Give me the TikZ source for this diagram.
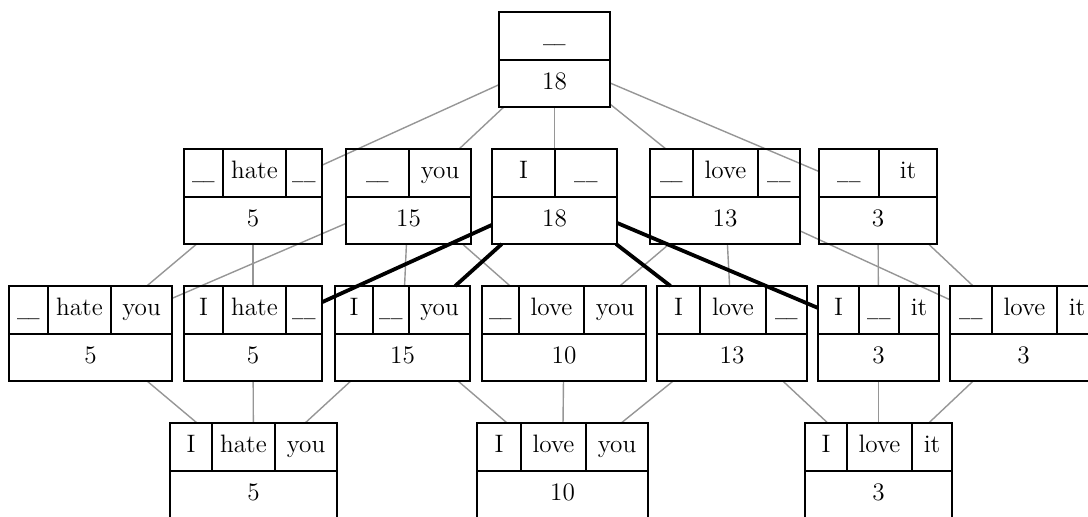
\documentclass[tikz,border=0pt]{standalone}
\usepackage{fontspec}
\usepackage{graphicx}
\pgfdeclarelayer{background}
\pgfsetlayers{background,main}
\definecolor{linkgray}{RGB}{150,150,150}
\tikzset{
  wordbox/.style={draw, line width=1pt, inner sep=0pt, outer sep=0pt,
    anchor=north west, minimum height=47.5pt},
  boxrule/.style={line width=1pt},
  wordlabel/.style={inner sep=0pt, anchor=base, font=\fontsize{12.6}{15}\selectfont},
  link/.style={draw=linkgray, line width=0.7pt},
  boldlink/.style={draw=black, line width=1.9pt},
}
% a box: a row of word cells above one cell with the count
% #1 name, #2 left, #3 right, #4 top, #5 count, #6 cells as left/right/word
\newcommand\wordrow[6]{%
  \node[wordbox, minimum width={(#3-#2)*0.5pt}] (#1) at (#2,#4) {};
  \draw[boxrule] (#2,#4+48) -- (#3,#4+48);
  \node[wordlabel] (#1-n) at ({(#2+#3)/2},#4+78) {#5};
  \foreach \a/\b/\w [count=\i] in {#6} {
    \node[wordlabel] (#1-w\i) at ({(\a+\b)/2},#4+30) {\w};
    \ifnum\i>1 \draw[boxrule] (\a,#4) -- (\a,#4+48);\fi
  }%
}
% the empty slot, written as a short double underscore
\newcommand\blank{\raisebox{0.6pt}{\scalebox{0.62}[1.5]{\_\_}}}
\begin{document}
\begin{tikzpicture}[x=0.5pt,y=-0.5pt]
\useasboundingbox (0,0) rectangle (1088,517);
% level 0
\wordrow{root}{499}{610}{12}{18}{499/610/\blank}
% level 1
\wordrow{h1}{184}{322}{149}{5}{184/223/\blank, 223/286/hate, 286/322/\blank}
\wordrow{y1}{346}{471}{149}{15}{346/409/\blank, 409/471/you}
\wordrow{i1}{492}{617}{149}{18}{492/555/I, 555/617/\blank}
\wordrow{l1}{650}{800}{149}{13}{650/693/\blank, 693/758/love, 758/800/\blank}
\wordrow{t1}{819}{937}{149}{3}{819/879/\blank, 879/937/it}
% level 2
\wordrow{hy2}{9}{172}{286}{5}{9/48/\blank, 48/111/hate, 111/172/you}
\wordrow{ih2}{184}{322}{286}{5}{184/223/I, 223/286/hate, 286/322/\blank}
\wordrow{iy2}{335}{470}{286}{15}{335/373/I, 373/409/\blank, 409/470/you}
\wordrow{ly2}{482}{646}{286}{10}{482/519/\blank, 519/584/love, 584/646/you}
\wordrow{il2}{657}{807}{286}{13}{657/700/I, 700/766/love, 766/807/\blank}
\wordrow{it2}{818}{939}{286}{3}{818/859/I, 859/899/\blank, 899/939/it}
\wordrow{lt2}{950}{1097}{286}{3}{950/992/\blank, 992/1057/love, 1057/1097/it}
% level 3
\wordrow{ihy3}{170}{337}{423}{5}{170/212/I, 212/275/hate, 275/337/you}
\wordrow{ily3}{477}{648}{423}{10}{477/521/I, 521/586/love, 586/648/you}
\wordrow{ilt3}{805}{952}{423}{3}{805/847/I, 847/912/love, 912/952/it}
% lattice links
\begin{pgfonlayer}{background}
\foreach \s/\t in {root/h1, root/y1, root/i1, root/l1, root/t1,
    h1/hy2, h1/ih2, y1/hy2, y1/iy2, y1/ly2,
    l1/ly2, l1/il2, l1/lt2, t1/it2, t1/lt2,
    hy2/ihy3, ih2/ihy3, iy2/ihy3,
    iy2/ily3, ly2/ily3, il2/ily3,
    il2/ilt3, it2/ilt3, lt2/ilt3}
  \draw[link] (\s) -- (\t);
\end{pgfonlayer}
% links from the selected node
\foreach \t in {ih2, iy2, il2, it2}
  \draw[boldlink] (i1) -- (\t);
\end{tikzpicture}
\end{document}
